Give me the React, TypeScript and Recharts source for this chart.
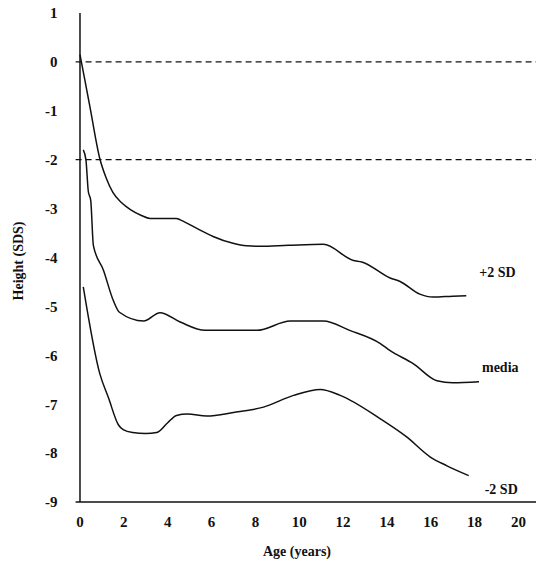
import { LineChart, Line, XAxis, YAxis, ReferenceLine, LabelList } from 'recharts';

// +2 SD curve
const agePlus2 = [0, 0.45, 0.9, 1.2, 1.5, 1.9, 2.3, 2.8, 3.2, 4.4, 4.57, 5.48, 6.07, 6.98, 7.6, 8.2, 9.5, 11.1, 12.47, 12.85, 14.15, 14.6, 15.5, 16.1, 17.0, 17.62];
const sdsPlus2 = [0.15, -0.91, -1.97, -2.38, -2.67, -2.88, -3.02, -3.14, -3.2, -3.2, -3.23, -3.44, -3.57, -3.71, -3.76, -3.77, -3.75, -3.73, -4.06, -4.09, -4.42, -4.49, -4.75, -4.81, -4.79, -4.78];

// media curve
const ageMedia = [0.15, 0.27, 0.38, 0.49, 0.61, 1.07, 1.52, 1.8, 2.9, 3.65, 4.57, 5.7, 8.07, 9.59, 11.1, 12.3, 13.7, 14.13, 15.2, 16.28, 17.0, 18.2];
const sdsMedia = [-1.8, -2.0, -2.65, -2.83, -3.75, -4.26, -4.88, -5.12, -5.3, -5.13, -5.32, -5.49, -5.49, -5.3, -5.3, -5.49, -5.76, -5.9, -6.17, -6.52, -6.56, -6.54];

// -2 SD curve
const ageMinus2 = [0.15, 0.9, 1.3, 1.75, 1.97, 2.4, 3.0, 3.5, 4.0, 4.4, 4.9, 5.78, 7.0, 8.37, 9.74, 10.96, 11.87, 13.7, 14.9, 15.98, 16.74, 17.73];
const sdsMinus2 = [-4.6, -6.37, -6.87, -7.42, -7.52, -7.58, -7.6, -7.58, -7.38, -7.23, -7.2, -7.24, -7.17, -7.06, -6.82, -6.7, -6.82, -7.3, -7.67, -8.08, -8.26, -8.46];

const xTicks = [0, 2, 4, 6, 8, 10, 12, 14, 16, 18, 20];
const yTicks = [1, 0, -1, -2, -3, -4, -5, -6, -7, -8, -9];
const refLevels = [0, -2];

const toRows = (ages: number[], vals: number[]) => ages.map((age, i) => ({ age, sds: vals[i] }));

const series = [
  { name: '+2 SD', data: toRows(agePlus2, sdsPlus2), dx: 13, dy: -23 },
  { name: 'media', data: toRows(ageMedia, sdsMedia), dx: 3, dy: -14 },
  { name: '-2 SD', data: toRows(ageMinus2, sdsMinus2), dx: 16, dy: 14 },
];

const font = '"Liberation Serif", "Times New Roman", serif';
const ink = '#111';

const endLabel = (text: string, count: number, dx: number, dy: number) => (props: any) => {
  if (props.index !== count - 1) return null;
  return (
    <text x={props.x + dx} y={props.y + dy} dominantBaseline="central" fontFamily={font}
      fontWeight="bold" fontSize={14} fill={ink}>
      {text}
    </text>
  );
};

export default function App() {
  return (
    <div style={{ position: 'absolute', left: 0, top: 0, background: '#fff' }}>
      <LineChart width={536} height={561} margin={{ top: 13, right: 0, left: 0, bottom: 0 }}>
        <XAxis
          type="number"
          dataKey="age"
          domain={[-0.2, 20.8]}
          ticks={xTicks}
          allowDataOverflow
          tickLine={false}
          tickSize={0}
          tickMargin={14}
          height={59}
          axisLine={{ stroke: ink, strokeWidth: 1.5 }}
          tick={{ fill: ink, fontSize: 15, fontWeight: 'bold', fontFamily: font }}
          label={{
            content: () => (
              <text x={297} y={551} textAnchor="middle" dominantBaseline="central"
                fontFamily={font} fontWeight="bold" fontSize={14} fill={ink}>
                Age (years)
              </text>
            ),
          }}
        />
        <YAxis
          type="number"
          domain={[-9, 1]}
          ticks={yTicks}
          width={75.6}
          axisLine={false}
          tickLine={false}
          tickSize={0}
          tickMargin={18}
          tick={{ fill: ink, fontSize: 15, fontWeight: 'bold', fontFamily: font }}
          label={{
            content: () => (
              <text x={18} y={261} transform="rotate(-90 18 261)" textAnchor="middle"
                dominantBaseline="central" fontFamily={font} fontWeight="bold" fontSize={14} fill={ink}>
                Height (SDS)
              </text>
            ),
          }}
        />
        {refLevels.map((v) => (
          <ReferenceLine key={v} y={v} stroke={ink} strokeWidth={1.3} strokeDasharray="6 4" />
        ))}
        <ReferenceLine x={0} stroke={ink} strokeWidth={1.5} />
        {series.map((s) => (
          <Line
            key={s.name}
            data={s.data}
            dataKey="sds"
            type="monotone"
            stroke={ink}
            strokeWidth={1.5}
            dot={false}
            isAnimationActive={false}
          >
            <LabelList dataKey="sds" content={endLabel(s.name, s.data.length, s.dx, s.dy)} />
          </Line>
        ))}
      </LineChart>
    </div>
  );
}
